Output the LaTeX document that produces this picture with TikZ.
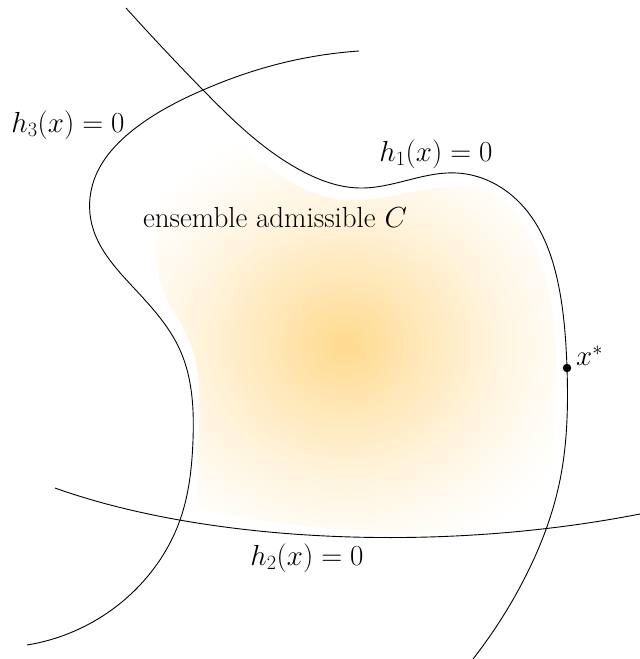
\RequirePackage{fix-cm}
\documentclass[tikz,border=0pt]{standalone}
\usepackage{tikz}
\usetikzlibrary{hobby}
\definecolor{core}{RGB}{255,217,140}
\tikzset{
  curve/.style={line width=0.9pt, black},
  lab/.style={font=\fontsize{29}{34}\selectfont, inner sep=0pt}
}
\begin{document}
\begin{tikzpicture}[x=1pt,y=-1pt]
\useasboundingbox (0,0) rectangle (640,659);
% soft shading of admissible set
\begin{scope}
\clip (200,106) .. controls (240,150) and (300,201) .. (350,201)
 .. controls (390,201) and (425,186) .. (460,186)
 .. controls (530,186) and (556,280) .. (556,370)
 .. controls (556,440) and (548,500) .. (538,527)
 .. controls (430,540) and (290,530) .. (197,508)
 -- (200,400) .. controls (200,360) and (190,335) .. (172,308)
 .. controls (150,275) and (140,190) .. (200,106) -- cycle;
\foreach \i in {64,...,1}{
  \pgfmathsetmacro\p{100*(1-\i/64)^1.35}
  \pgfmathsetmacro\rx{4*\i}
  \pgfmathsetmacro\ry{3.6*\i}
  \fill[core!\p!white] (345,345) ellipse[x radius=\rx pt, y radius=\ry pt];
}
\end{scope}
% h1
\draw[curve, use Hobby shortcut]
 (126,8) .. (203,90) .. (300,170) .. (360,188) .. (457,173) .. (517,200)
 .. (560,293) .. (567,368) .. (560,480) .. (520,587) .. (473,659);
% h3
\draw[curve, use Hobby shortcut]
 (359,51) .. (267,67) .. (203,90) .. (133,130) .. (94,180) .. (92,225)
 .. (133,287) .. (180,350) .. (193,440) .. (180,520) .. (140,585) .. (27,645);
% h2
\draw[curve] (55,488) .. controls (200,540) and (430,555) .. (640,514);
% point x*
\node[circle, fill=black, inner sep=0pt, minimum size=8.5pt] (xs) at (567,368) {};
\node[lab, anchor=south west] (xsl) at (576,366) {$x^*$};
% labels
\node[lab] (l3) at (68,125) {$h_3(x) = 0$};
\node[lab] (l1) at (436,154) {$h_1(x) = 0$};
\node[lab] (l2) at (307,558) {$h_2(x) = 0$};
\node[lab] (lc) at (275,218) {ensemble admissible $C$};
\end{tikzpicture}
\end{document}
